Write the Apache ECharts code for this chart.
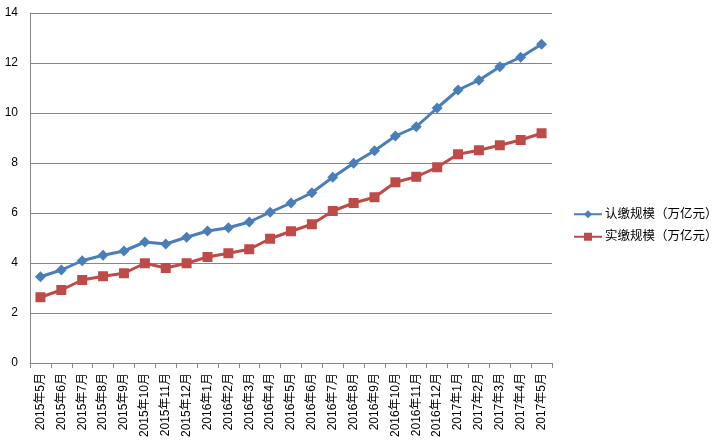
<!DOCTYPE html>
<html><head><meta charset="utf-8">
<script src="https://cdn.jsdelivr.net/npm/echarts@6/dist/echarts.min.js"></script>
<style>html,body{margin:0;padding:0;background:#fff}#c{width:713px;height:443px}</style>
</head><body><div id="c"></div>
<script>
const categories = ['2015年5月','2015年6月','2015年7月','2015年8月','2015年9月','2015年10月','2015年11月','2015年12月',
 '2016年1月','2016年2月','2016年3月','2016年4月','2016年5月','2016年6月','2016年7月','2016年8月','2016年9月','2016年10月','2016年11月','2016年12月',
 '2017年1月','2017年2月','2017年3月','2017年4月','2017年5月'];
const subscribed = [3.45,3.72,4.09,4.31,4.48,4.84,4.76,5.03,5.28,5.41,5.64,6.03,6.40,6.81,7.43,7.99,8.49,9.08,9.45,10.20,10.92,11.31,11.85,12.23,12.75];
const paidIn = [2.63,2.92,3.32,3.47,3.59,3.99,3.80,3.99,4.24,4.39,4.55,4.97,5.27,5.55,6.08,6.40,6.63,7.23,7.45,7.83,8.35,8.51,8.71,8.92,9.19];
const seriesNames = ['认缴规模（万亿元）','实缴规模（万亿元）'];
const yTicks = {min:0,max:14,interval:2};

const font = "'Liberation Sans','Noto Sans CJK SC',sans-serif";
const chart = echarts.init(document.getElementById('c'));
chart.setOption({
  animation:false,
  backgroundColor:'#fff',
  textStyle:{fontFamily:font},
  grid:{left:30,top:13,right:161,bottom:80,containLabel:false},
  legend:{
    orient:'vertical', left:568, top:203, itemWidth:28, itemHeight:10, itemGap:10,
    textStyle:{fontSize:12.5,color:'#000',fontFamily:font,padding:[0,0,0,-2]},
    data:seriesNames
  },
  xAxis:{
    type:'category', data:categories, boundaryGap:true,
    axisLine:{lineStyle:{color:'#868686',width:1}},
    axisTick:{show:true,length:5,lineStyle:{color:'#868686'}},
    axisLabel:{rotate:90,fontSize:12,color:'#000',margin:10,interval:0,fontFamily:font}
  },
  yAxis:{
    type:'value', min:yTicks.min, max:yTicks.max, interval:yTicks.interval,
    axisLine:{show:true,lineStyle:{color:'#868686'}},
    axisTick:{show:false},
    splitLine:{lineStyle:{color:'#868686',width:1}},
    axisLabel:{fontSize:12,color:'#000',margin:12,fontFamily:font}
  },
  series:[
    {name:seriesNames[0],type:'line',data:subscribed,symbol:'diamond',symbolSize:11,
     lineStyle:{color:'#4a7ebb',width:3},itemStyle:{color:'#4a7ebb'}},
    {name:seriesNames[1],type:'line',data:paidIn,symbol:'rect',symbolSize:10,
     lineStyle:{color:'#be4b48',width:3},itemStyle:{color:'#be4b48'}}
  ]
});
</script></body></html>
